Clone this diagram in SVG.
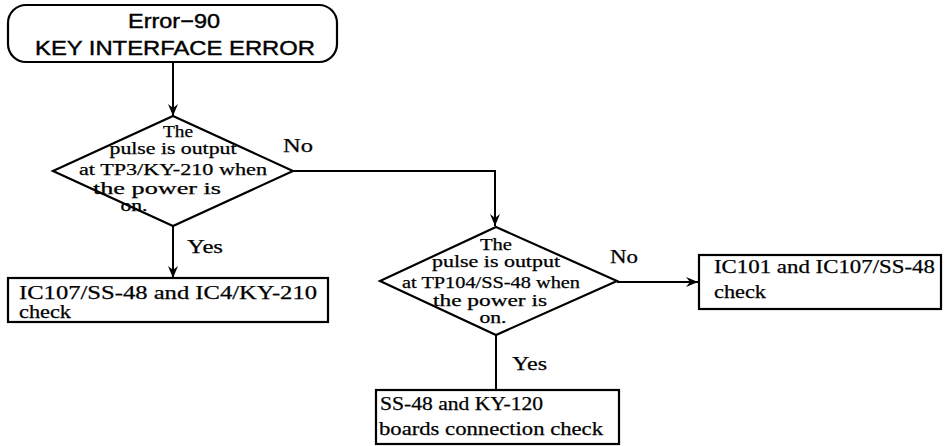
<svg xmlns="http://www.w3.org/2000/svg" width="947" height="446" viewBox="0 0 947 446">
<defs>
<style>
.shape{fill:#fff;stroke:#000;stroke-width:2.2}
.ln{fill:none;stroke:#000;stroke-width:2}
.s{font-family:"Liberation Sans",Arial,sans-serif;font-size:21px;fill:#000;stroke:#000;stroke-width:0.4}
.t{font-family:"Liberation Serif","Times New Roman",serif;font-size:19px;fill:#000;stroke:#000;stroke-width:0.25}
.d{font-size:16px}
.tm{text-anchor:middle}
</style>
<marker id="ah" viewBox="0 0 12 10" refX="12" refY="5" markerWidth="12" markerHeight="10" markerUnits="userSpaceOnUse" orient="auto">
<path d="M0,0 L12,5 L0,10 L4,5 Z" fill="#000"/>
</marker>
</defs>
<rect width="947" height="446" fill="#fff"/>
<g id="connectors">
<line class="ln" x1="173" y1="62" x2="173" y2="116" marker-end="url(#ah)"/>
<polyline class="ln" points="293,171 495,171 495,226" marker-end="url(#ah)"/>
<line class="ln" x1="173" y1="226" x2="173" y2="278" marker-end="url(#ah)"/>
<line class="ln" x1="617" y1="282" x2="698" y2="282" marker-end="url(#ah)"/>
<line class="ln" x1="496" y1="335" x2="496" y2="390"/>
<text class="t" x="283" y="152" textLength="30" lengthAdjust="spacingAndGlyphs">No</text>
<text class="t" x="187" y="253" textLength="36" lengthAdjust="spacingAndGlyphs">Yes</text>
<text class="t" x="610" y="263" textLength="28" lengthAdjust="spacingAndGlyphs">No</text>
<text class="t" x="512" y="370" textLength="35" lengthAdjust="spacingAndGlyphs">Yes</text>
</g>
<g id="start">
<rect class="shape" x="8" y="5" width="329" height="57" rx="18" ry="18"/>
<text class="s tm" x="174" y="28" textLength="92" lengthAdjust="spacingAndGlyphs">Error−90</text>
<text class="s tm" x="175" y="55" textLength="280" lengthAdjust="spacingAndGlyphs">KEY INTERFACE ERROR</text>
</g>
<g id="decision1">
<polygon class="shape" points="173,116 293,171 173,226 53,171"/>
<text class="t d tm" x="178" y="137" textLength="30" lengthAdjust="spacingAndGlyphs">The</text>
<text class="t d tm" x="173" y="154" textLength="127" lengthAdjust="spacingAndGlyphs">pulse is output</text>
<text class="t d tm" x="173" y="175" textLength="188" lengthAdjust="spacingAndGlyphs">at TP3/KY-210 when</text>
<text class="t d tm" x="157" y="194" textLength="128" lengthAdjust="spacingAndGlyphs">the power is</text>
<text class="t d tm" x="134" y="211" textLength="27" lengthAdjust="spacingAndGlyphs">on.</text>
</g>
<g id="box1">
<rect class="shape" x="8" y="278" width="320" height="44"/>
<text class="t" x="19" y="299" textLength="298" lengthAdjust="spacingAndGlyphs">IC107/SS-48 and IC4/KY-210</text>
<text class="t" x="19" y="318" textLength="52" lengthAdjust="spacingAndGlyphs">check</text>
</g>
<g id="decision2">
<polygon class="shape" points="496,227 617,281 496,335 380,281"/>
<text class="t d tm" x="496" y="250" textLength="32" lengthAdjust="spacingAndGlyphs">The</text>
<text class="t d tm" x="496" y="267" textLength="128" lengthAdjust="spacingAndGlyphs">pulse is output</text>
<text class="t d tm" x="491" y="288" textLength="178" lengthAdjust="spacingAndGlyphs">at TP104/SS-48 when</text>
<text class="t d tm" x="490" y="306" textLength="114" lengthAdjust="spacingAndGlyphs">the power is</text>
<text class="t d tm" x="493" y="323" textLength="27" lengthAdjust="spacingAndGlyphs">on.</text>
</g>
<g id="box3">
<rect class="shape" x="699" y="255" width="242" height="54"/>
<text class="t" x="714" y="273" textLength="221" lengthAdjust="spacingAndGlyphs">IC101 and IC107/SS-48</text>
<text class="t" x="714" y="298" textLength="52" lengthAdjust="spacingAndGlyphs">check</text>
</g>
<g id="box4">
<rect class="shape" x="376" y="390" width="243" height="54"/>
<text class="t" x="380" y="410" textLength="163" lengthAdjust="spacingAndGlyphs">SS-48 and KY-120</text>
<text class="t" x="379" y="435" textLength="224" lengthAdjust="spacingAndGlyphs">boards connection check</text>
</g>
</svg>
